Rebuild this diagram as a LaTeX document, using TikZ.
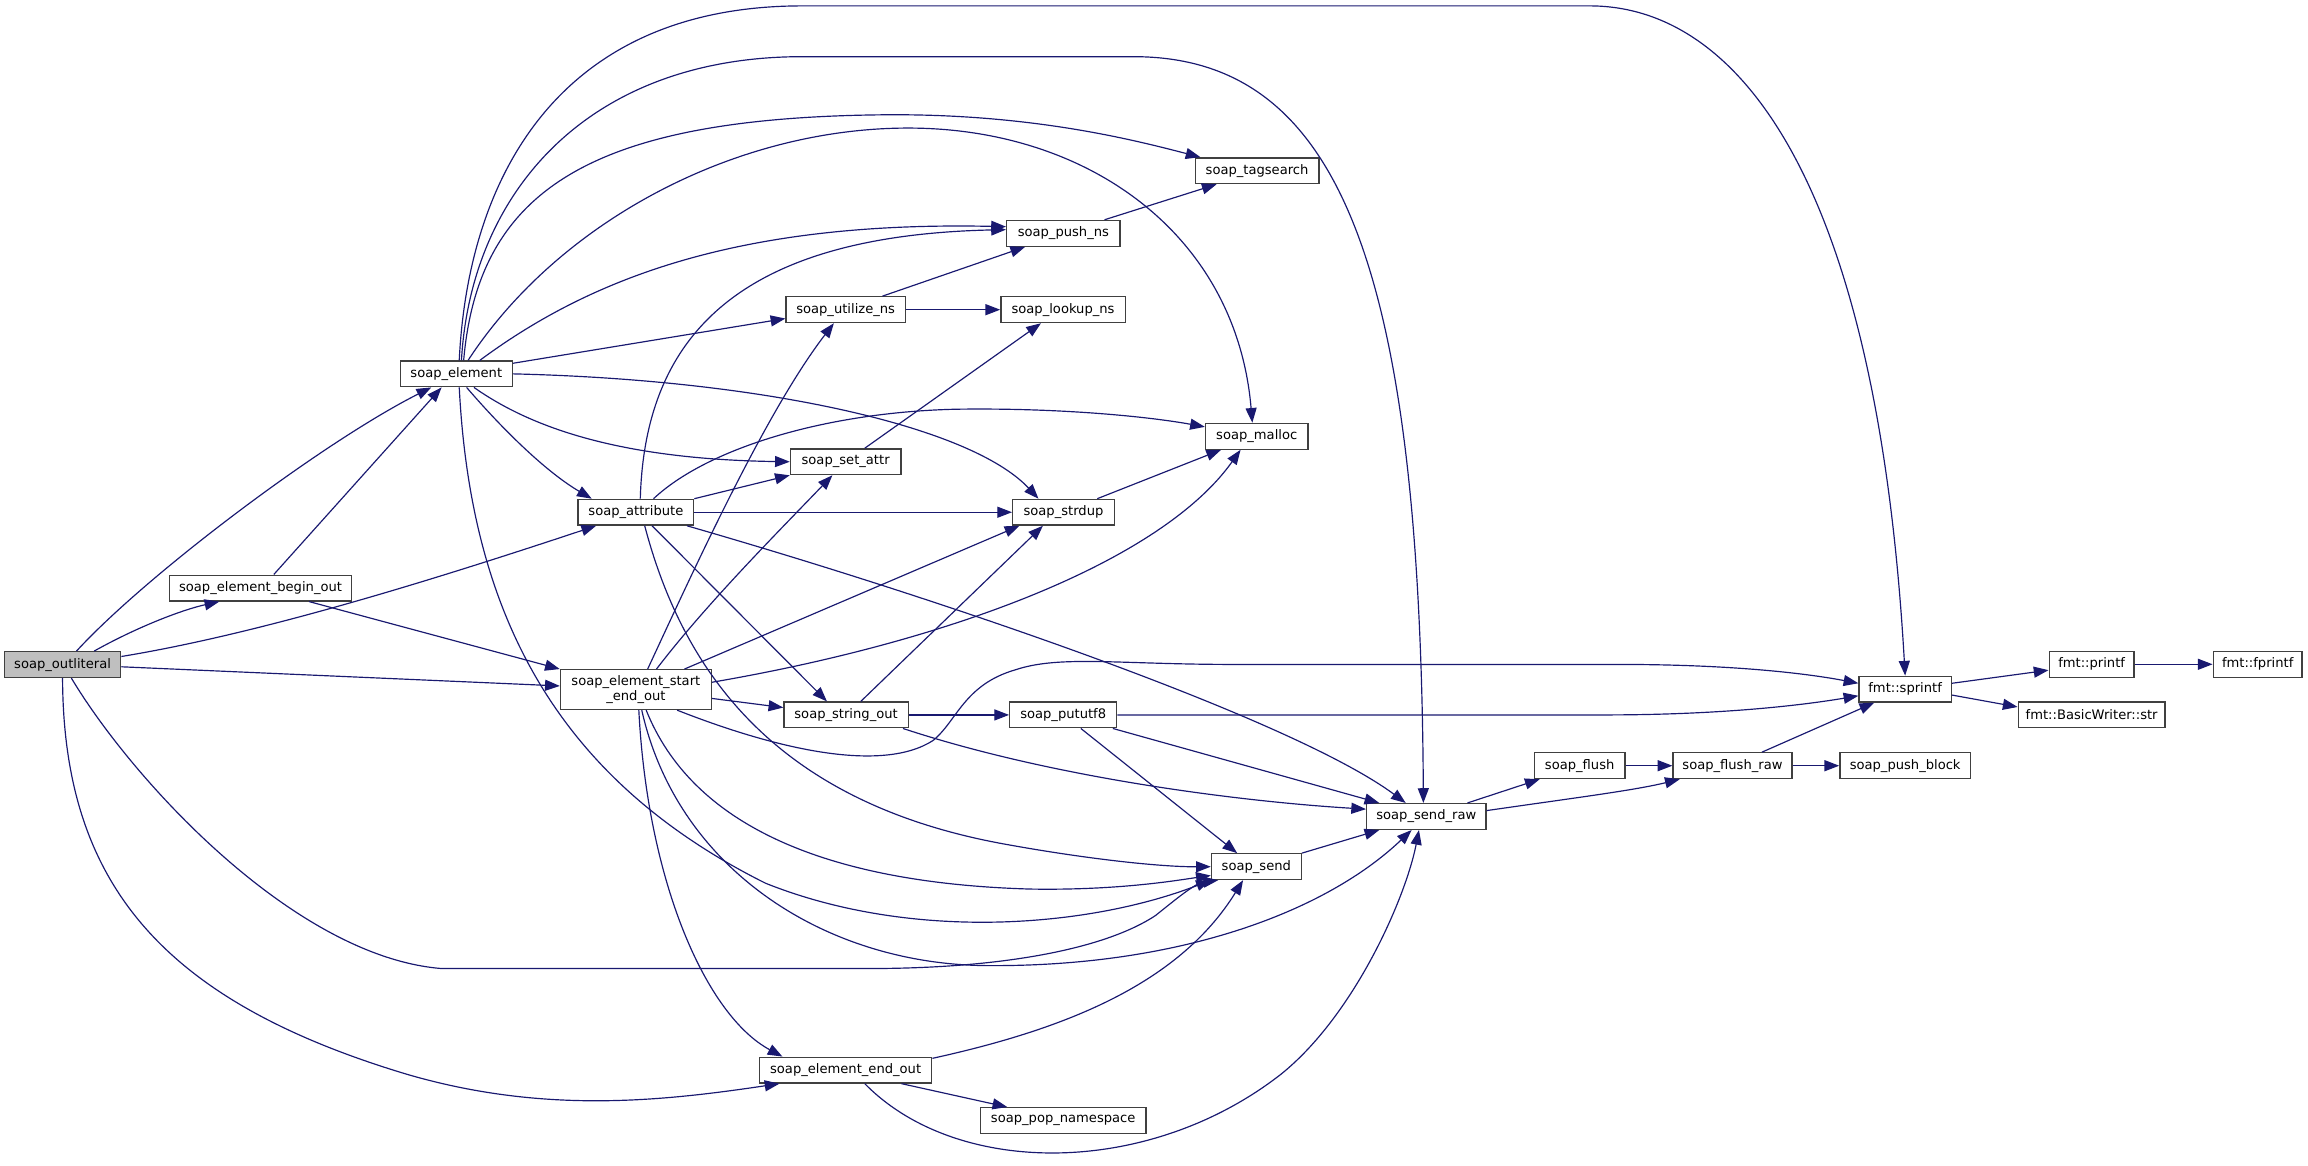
\documentclass[tikz,border=0pt]{standalone}
\usepackage{fontspec}
\setmainfont{DejaVu Sans}
\usetikzlibrary{arrows.meta}
\definecolor{edgeblue}{HTML}{191970}
\definecolor{rootgray}{HTML}{BFBFBF}
\tikzset{
	func/.style={draw=black!75, line width=0.9pt, fill=white, minimum width=#1, minimum height=17.5pt, inner sep=0pt, font=\fontsize{8.9pt}{10pt}\selectfont},
	calls/.style={draw=edgeblue, line width=0.8pt, -{Triangle[length=10pt,width=7.5pt]}},
}

\begin{document}
\begin{tikzpicture}[x=1pt, y=-1pt]
			%%%%% START %%%%%
			\useasboundingbox (0,0) rectangle (1568,792);
			
			\node[func=79pt, fill=rootgray] (outlit) at (42.5,451.5) {soap\_outliteral};
			\node[func=124pt] (beginout) at (177,399.5) {soap\_element\_begin\_out};
			\node[func=76pt] (elem) at (310,254) {soap\_element};
			\node[func=78.5pt] (attr) at (432,348) {soap\_attribute};
			\node[func=102.5pt, minimum height=27pt, align=center] (startend) at (432,468.5) {soap\_element\_start\\\_end\_out};
			\node[func=117pt] (endout) at (574.5,727) {soap\_element\_end\_out};
			
			\node[func=84pt] (tagsearch) at (854,116) {soap\_tagsearch};
			\node[func=77pt] (pushns) at (722.4,158.5) {soap\_push\_ns};
			\node[func=81pt] (utilize) at (574.5,210.4) {soap\_utilize\_ns};
			\node[func=84.5pt] (lookup) at (722.2,210.4) {soap\_lookup\_ns};
			\node[func=69.6pt] (malloc) at (853.8,296.4) {soap\_malloc};
			\node[func=75pt] (setattr) at (574.5,313.7) {soap\_set\_attr};
			\node[func=69pt] (strdup) at (722.5,348) {soap\_strdup};
			\node[func=84.4pt] (strout) at (574.8,485.7) {soap\_string\_out};
			\node[func=72.6pt] (pututf) at (722.3,485.7) {soap\_pututf8};
			\node[func=81pt] (sendraw) at (969,554.7) {soap\_send\_raw};
			\node[func=61pt] (send) at (853.5,588.8) {soap\_send};
			\node[func=112.6pt] (popns) at (722.3,761.3) {soap\_pop\_namespace};
			
			\node[func=61.5pt] (flush) at (1073.2,520.2) {soap\_flush};
			\node[func=80.8pt] (flushraw) at (1177,520.2) {soap\_flush\_raw};
			\node[func=88.7pt] (pushblock) at (1294.3,520.2) {soap\_push\_block};
			\node[func=62.7pt] (sprintf) at (1294.3,468.2) {fmt::sprintf};
			\node[func=57.7pt] (printf) at (1421,451.3) {fmt::printf};
			\node[func=60.4pt] (fprintf) at (1533.8,451.3) {fmt::fprintf};
			\node[func=99.7pt] (bwstr) at (1421,485.7) {fmt::BasicWriter::str};
			
			% soap_outliteral
			\draw[calls] ([xshift=9.5pt]outlit.north) .. controls (100,390) and (220,300) .. ([xshift=-17pt]elem.south);
			\draw[calls] ([xshift=21.5pt]outlit.north) .. controls (95,425) and (125,414) .. ([xshift=-28pt]beginout.south);
			\draw[calls] ([yshift=5.5pt]outlit.east) .. controls (180,430) and (300,392) .. ([xshift=-27pt]attr.south);
			\draw[calls] ([yshift=-1.5pt]outlit.east) -- ([yshift=2.5pt]startend.west);
			\draw[calls] ([xshift=6pt]outlit.south) .. controls (90,530) and (200,650) .. (300,658) -- (590,658) .. controls (680,658) and (750,645) .. (785,622) .. controls (800,610) and (812,600) .. ([xshift=5pt]send.south west);
			\draw[calls] (outlit.south) .. controls (43,600) and (110,680) .. (277,730) .. controls (370,757) and (450,748) .. ([xshift=14pt]endout.south west);
			
			% soap_element_begin_out
			\draw[calls] ([xshift=9pt]beginout.north) -- ([xshift=-10pt]elem.south);
			\draw[calls] ([xshift=33pt]beginout.south) -- (startend.north west);
			
			% soap_element
			\draw[calls] ([xshift=2pt]elem.north) .. controls (318,120) and (380,4) .. (545,4) -- (1080,4) .. controls (1180,4) and (1275,120) .. (sprintf.north);
			\draw[calls] ([xshift=3.5pt]elem.north) .. controls (320,130) and (400,38.5) .. (545,38.5) -- (770,38.5) .. controls (910,38.5) and (965,180) .. ([xshift=-2pt]sendraw.north);
			\draw[calls] ([xshift=5pt]elem.north) .. controls (325,130) and (400,80) .. (600,78) .. controls (700,77) and (770,95) .. ([xshift=4pt]tagsearch.north west);
			\draw[calls] ([xshift=8pt]elem.north) .. controls (380,150) and (500,87) .. (617,87) .. controls (740,87) and (840,160) .. ([xshift=-3pt]malloc.north);
			\draw[calls] ([xshift=16pt]elem.north) .. controls (400,190) and (500,150) .. ([yshift=4.5pt]pushns.west);
			\draw[calls] ([yshift=-2pt]elem.north east) -- ([yshift=-6pt]utilize.west);
			\draw[calls] (elem.east) .. controls (520,258) and (660,290) .. ([xshift=-17pt]strdup.north);
			\draw[calls] ([xshift=12pt]elem.south) .. controls (360,290) and (420,312) .. (setattr.west);
			\draw[calls] ([xshift=7pt]elem.south) .. controls (340,290) and (370,320) .. ([xshift=-30pt]attr.north);
			\draw[calls] ([xshift=2pt]elem.south) .. controls (320,420) and (380,530) .. (520,600) .. controls (620,640) and (740,630) .. (send.south west);
			
			% soap_attribute
			\draw[calls] (attr.north east) -- (setattr.south west);
			\draw[calls] ([xshift=12pt]attr.north) .. controls (480,305) and (560,280) .. (650,278) .. controls (720,277) and (780,283) .. ([yshift=6.4pt]malloc.west);
			\draw[calls] (attr.east) -- (strdup.west);
			\draw[calls] ([xshift=-5pt]attr.south east) .. controls (650,410) and (880,490) .. ([xshift=-14pt]sendraw.north);
			\draw[calls] ([xshift=11pt]attr.south) -- ([xshift=-13pt]strout.north);
			\draw[calls] ([xshift=6pt]attr.south) .. controls (465,460) and (530,545) .. (680,573) .. controls (740,584) and (790,589) .. (send.west);
			\draw[calls] ([xshift=3pt]attr.north) .. controls (438,230) and (500,160) .. ([yshift=2.5pt]pushns.west);
			
			% soap_element_start_end_out
			\draw[calls] ([xshift=8pt]startend.north) .. controls (470,390) and (520,280) .. ([xshift=-8pt]utilize.south);
			\draw[calls] ([xshift=14pt]startend.north) .. controls (480,410) and (530,360) .. ([xshift=-9pt]setattr.south);
			\draw[calls] ([xshift=33pt]startend.north) -- ([xshift=5pt]strdup.south west);
			\draw[calls] ([yshift=5pt]startend.east) .. controls (650,435) and (790,380) .. ([xshift=-11pt]malloc.south);
			\draw[calls] ([yshift=-6pt]startend.east) -- ([yshift=5pt]strout.west);
			\draw[calls] ([xshift=28pt]startend.south) .. controls (530,510) and (600,525) .. (634,503) .. controls (650,490) and (655,465) .. (690,455) .. controls (720,445) and (760,451.4) .. (838,451.4) -- (1100,451.4) .. controls (1180,451.4) and (1230,458) .. ([yshift=4pt]sprintf.west);
			\draw[calls] ([xshift=7pt]startend.south) .. controls (470,560) and (560,600) .. (700,604) .. controls (760,605) and (800,598) .. ([yshift=-6pt]send.west);
			\draw[calls] ([xshift=4pt]startend.south) .. controls (460,590) and (560,655) .. (670,656) .. controls (800,657) and (900,620) .. ([xshift=-10pt]sendraw.south);
			\draw[calls] ([xshift=2pt]startend.south) .. controls (440,600) and (480,690) .. ([xshift=16pt]endout.north west);
			
			% soap_string_out, soap_pututf8
			\draw[calls] ([xshift=10pt]strout.north) -- ([xshift=-14pt]strdup.south);
			\draw[calls] (strout.east) -- (pututf.west);
			\draw[calls] ([xshift=-4pt]strout.south east) .. controls (720,530) and (850,545) .. ([yshift=5pt]sendraw.west);
			\draw[calls] (pututf.east) -- (1090,485.7) .. controls (1170,485.7) and (1225,479) .. ([yshift=-4.5pt]sprintf.west);
			\draw[calls] ([xshift=-3pt]pututf.south east) -- ([xshift=9pt]sendraw.north west);
			\draw[calls] ([xshift=12pt]pututf.south) -- ([xshift=-13pt]send.north);
			
			% soap_send, soap_send_raw, soap_flush
			\draw[calls] (send.north east) -- ([xshift=9pt]sendraw.south west);
			\draw[calls] ([xshift=-13pt]sendraw.north east) -- ([xshift=4pt]flush.south west);
			\draw[calls] ([yshift=4pt]sendraw.east) .. controls (1070,542) and (1110,537) .. ([xshift=5pt]flushraw.south west);
			\draw[calls] (flush.east) -- (flushraw.west);
			\draw[calls] (flushraw.east) -- (pushblock.west);
			\draw[calls] ([xshift=20pt]flushraw.north) -- ([xshift=-21pt]sprintf.south);
			
			% fmt
			\draw[calls] ([yshift=4pt]sprintf.east) -- ([yshift=-4pt]printf.west);
			\draw[calls] ([yshift=-4pt]sprintf.east) -- ([yshift=5.4pt]bwstr.west);
			\draw[calls] (printf.east) -- (fprintf.west);
			
			% soap_element_end_out
			\draw[calls] ([yshift=8pt]endout.east) .. controls (720,700) and (800,670) .. ([xshift=-9pt]send.south);
			\draw[calls] ([xshift=-21pt]endout.south east) -- ([xshift=-38pt]popns.north);
			\draw[calls] ([xshift=13pt]endout.south) .. controls (650,800) and (780,800) .. (870,730) .. controls (920,690) and (955,610) .. ([xshift=-5pt]sendraw.south);
			
			% namespaces
			\draw[calls] ([xshift=25pt]utilize.north) -- ([xshift=13pt]pushns.south west);
			\draw[calls] (utilize.east) -- (lookup.west);
			\draw[calls] ([xshift=13pt]setattr.north) -- ([xshift=-15pt]lookup.south);
			\draw[calls] ([xshift=28pt]pushns.north) -- ([xshift=15pt]tagsearch.south west);
			\draw[calls] ([xshift=-12pt]strdup.north east) -- ([xshift=11pt]malloc.south west);
			%%%%% END %%%%%
\end{tikzpicture}
\end{document}
